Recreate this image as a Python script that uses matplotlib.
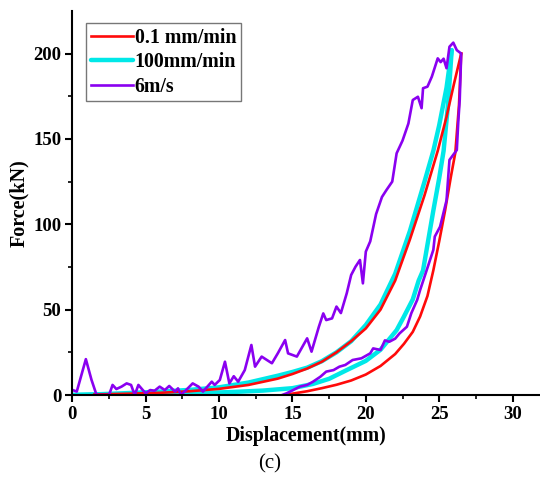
import numpy as np
import matplotlib
matplotlib.use("Agg")
import matplotlib.pyplot as plt

## Force-displacement curves, three loading rates
## values

## 0.1 mm/min : loading then unloading
red_load_x = [1.5, 4, 6, 8, 10, 12, 14, 15, 16, 17, 18, 19, 20, 21, 22, 23, 24, 24.9, 25.5, 26.0, 26.5]
red_load_y = [0.3, 0.8, 1.3, 2.2, 3.6, 5.9, 9.6, 12.3, 15.5, 19.5, 25, 31.5, 39, 50, 67, 91, 117, 143, 163, 182, 200]
red_unl_x = [26.5, 26.35, 26.1, 25.8, 25.4, 25.0, 24.6, 24.2, 23.7, 23.2, 22.6, 22.0, 21.0, 20.0, 19.0, 18.0, 17.0, 16.0, 15.0, 14.5]
red_unl_y = [200, 170, 142, 128, 108, 90, 73, 58, 46, 37, 30, 24, 17, 12, 8.5, 6, 4, 2.2, 0.8, 0]

## 100 mm/min
cyan_load_x = [0, 2, 4, 6, 8, 10, 12, 14, 15, 16, 17, 18, 19, 20, 21, 22, 23, 24, 24.6, 25.0, 25.5, 25.85]
cyan_load_y = [0, 0.5, 1.2, 2, 3, 4.5, 7.3, 11.3, 13.5, 16, 19.8, 25, 31.5, 41, 53, 71, 96, 125, 143, 158, 180, 202]
cyan_unl_x = [25.85, 25.6, 25.3, 25.0, 24.6, 24.2, 23.9, 23.6, 23.2, 22.6, 22.1, 21.0, 20.0, 18.7, 17.5, 16.4, 15, 13, 11, 9, 7, 5, 3, 1, 0]
cyan_unl_y = [202, 170, 143, 127, 108, 88, 73, 67, 56, 46, 38, 26.5, 20, 14.6, 9.5, 6.5, 4, 2.6, 1.8, 1.2, 0.8, 0.5, 0.3, 0.1, 0]

## 6 m/s : noisy loop
purple_x = [0, 0.3, 0.92, 1.3, 1.65, 2.5, 2.74, 3.0, 3.35, 3.7, 4.0, 4.25, 4.5, 4.8, 5.0, 5.3, 5.6, 5.95,
            6.3, 6.6, 7.0, 7.2, 7.4, 7.75, 8.2, 8.6, 8.9, 9.5, 9.7, 10.05, 10.4, 10.7, 11.0, 11.3, 11.75,
            12.2, 12.45, 12.9, 13.6, 14.0, 14.5, 14.7, 15.3, 16.0, 16.3, 16.8, 17.1, 17.3, 17.7, 18.0, 18.3,
            18.7, 19.0, 19.3, 19.6, 19.8, 20.0, 20.3, 20.7, 21.1, 21.4, 21.8, 22.1, 22.5, 22.9, 23.2, 23.55,
            23.8, 23.9, 24.2, 24.5, 24.9, 25.1, 25.3, 25.5, 25.7, 25.96, 26.2, 26.5,
            26.4, 26.3, 26.2, 25.7, 25.5, 25.06, 24.7, 24.6, 24.15, 23.7, 23.5, 23.1, 22.8, 22.3, 22.0,
            21.6, 21.3, 21.0, 20.5, 20.3, 19.7, 19.1, 18.6, 18.2, 17.8, 17.3, 16.9, 16.4, 16.0, 15.5,
            15.05, 14.6, 14.3]
purple_y = [3, 2, 21, 9, 0, 0, 5.9, 3.5, 4.9, 6.8, 5.9, 0, 5.9, 2.9, 1, 2.9, 2.5, 4.9,
            2.9, 5.3, 2, 3.9, 0, 2.9, 6.8, 4.9, 2, 7.8, 5.9, 8.8, 19.5, 6.8, 11, 7.8, 14.6,
            29.3, 16.6, 22.5, 18.6, 24.4, 32.2, 24.4, 22.5, 33.2, 25.4, 40, 47.8, 43.9, 44.9, 51.8, 48,
            59.6, 70.3, 75.2, 79.1, 65.4, 84, 90, 106, 116, 120, 125, 141.6, 149, 159, 172.8, 174.7,
            168, 179.7, 180.6, 186.5, 197.2, 195, 197, 191.4, 204, 206.4, 202, 200,
            173, 160, 143.5, 137.7, 114, 98.6, 92.8, 85, 73.2, 61.5, 55.7, 47.9, 40, 36.1, 33,
            31.2, 32, 26.4, 27.3, 24.4, 21.5, 20.5, 17.6, 16.6, 14.6, 13.7, 10.7, 7.8, 5.9, 4.9,
            2.9, 1, 0]

plt.rcParams['font.family'] = ['Liberation Serif', 'DejaVu Serif']

fig = plt.figure(figsize=(5.4, 4.95), dpi=100)
ax = fig.add_axes([0.134, 0.202, 0.866, 0.776])

c_red = '#ff0a0a'
c_cyan = '#00e8e8'
c_purple = '#8a00f0'

## cyan underneath, then red, purple on top
hc, = ax.plot(cyan_load_x, cyan_load_y, color=c_cyan, lw=3.2, solid_capstyle='round')
ax.plot(cyan_unl_x, cyan_unl_y, color=c_cyan, lw=3.2, solid_capstyle='round')
hr, = ax.plot(red_load_x, red_load_y, color=c_red, lw=1.9)
ax.plot(red_unl_x, red_unl_y, color=c_red, lw=1.9)
hp, = ax.plot(purple_x, purple_y, color=c_purple, lw=1.9)

ax.set_xlim(0, 31.87)
ax.set_ylim(0, 225)
ax.set_xticks([0, 5, 10, 15, 20, 25, 30])
ax.set_xticks(np.arange(2.5, 31, 5), minor=True)
ax.set_yticks([0, 50, 100, 150, 200])
ax.set_yticks([25, 75, 125, 175], minor=True)

for s in ['top', 'right']:
    ax.spines[s].set_visible(False)
for s in ['left', 'bottom']:
    ax.spines[s].set_linewidth(1.5)

ax.tick_params(which='major', direction='out', length=5, width=1.5, labelsize=13.5, pad=3)
ax.tick_params(which='minor', direction='out', length=3, width=1.2)
for lab in ax.get_xticklabels() + ax.get_yticklabels():
    lab.set_fontweight('bold')

ax.set_xlabel('Displacement(mm)', fontsize=14.3, fontweight='bold', labelpad=2)
ax.set_ylabel('Force(kN)', fontsize=14.5, fontweight='bold', labelpad=3)

leg = ax.legend([hr, hc, hp], ['0.1 mm/min', '100mm/min', '6m/s'],
                loc='upper left', bbox_to_anchor=(0.029, 0.969), borderaxespad=0,
                fancybox=False, framealpha=1, edgecolor='#777777',
                prop={'weight': 'bold', 'size': 14.3}, handlelength=2.1,
                handletextpad=0.1, labelspacing=0.22, borderpad=0.25)
leg.get_frame().set_linewidth(1.0)

fig.text(0.5, 0.063, '(c)', ha='center', va='center', fontsize=15)

fig.savefig('out.png', dpi=100)
